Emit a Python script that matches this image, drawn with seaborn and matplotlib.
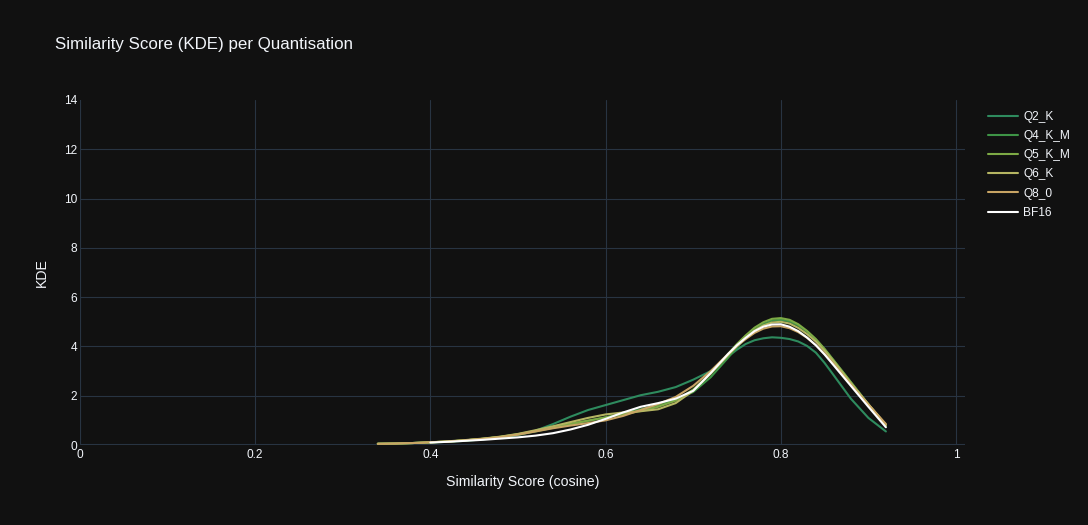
import pandas as pd
import numpy as np
import matplotlib
matplotlib.use("Agg")
import matplotlib.pyplot as plt
import seaborn as sns

# KDE curves
score = [0.34, 0.36, 0.38, 0.40, 0.42, 0.44, 0.46, 0.48, 0.50, 0.52,
         0.54, 0.56, 0.58, 0.60, 0.62, 0.64, 0.66, 0.68, 0.70, 0.72,
         0.74, 0.75, 0.76, 0.77, 0.78, 0.79, 0.80, 0.81, 0.82, 0.83,
         0.84, 0.85, 0.86, 0.88, 0.90, 0.92]

q2_k = [0.05, 0.06, 0.08, 0.10, 0.13, 0.17, 0.23, 0.30, 0.40, 0.58,
        0.85, 1.15, 1.42, 1.62, 1.82, 2.02, 2.16, 2.35, 2.65, 3.00,
        3.60, 3.87, 4.10, 4.25, 4.33, 4.37, 4.35, 4.30, 4.20, 4.02,
        3.75, 3.33, 2.85, 1.88, 1.10, 0.55]
q4_k_m = [0.05, 0.06, 0.08, 0.11, 0.14, 0.19, 0.25, 0.33, 0.43, 0.55,
          0.70, 0.85, 0.98, 1.12, 1.28, 1.45, 1.62, 1.82, 2.15, 2.75,
          3.55, 3.97, 4.35, 4.67, 4.90, 5.05, 5.08, 5.02, 4.85, 4.60,
          4.28, 3.88, 3.45, 2.55, 1.65, 0.78]
q5_k_m = [0.05, 0.06, 0.08, 0.11, 0.14, 0.19, 0.25, 0.33, 0.44, 0.57,
          0.72, 0.86, 0.99, 1.12, 1.24, 1.38, 1.55, 1.80, 2.25, 2.90,
          3.70, 4.10, 4.45, 4.76, 4.98, 5.12, 5.15, 5.08, 4.90, 4.63,
          4.30, 3.90, 3.45, 2.55, 1.65, 0.80]
q6_k = [0.05, 0.06, 0.08, 0.11, 0.15, 0.20, 0.26, 0.34, 0.45, 0.60,
        0.76, 0.93, 1.10, 1.24, 1.32, 1.37, 1.45, 1.70, 2.20, 2.90,
        3.65, 4.02, 4.35, 4.64, 4.85, 4.97, 5.00, 4.93, 4.75, 4.50,
        4.20, 3.82, 3.40, 2.50, 1.65, 0.82]
q8_0 = [0.05, 0.06, 0.08, 0.11, 0.14, 0.19, 0.25, 0.32, 0.42, 0.55,
        0.68, 0.79, 0.89, 1.00, 1.18, 1.42, 1.66, 1.95, 2.40, 3.00,
        3.70, 4.02, 4.30, 4.55, 4.72, 4.81, 4.82, 4.74, 4.58, 4.35,
        4.05, 3.70, 3.30, 2.45, 1.65, 0.85]
bf16 = [None, None, None, 0.10, 0.13, 0.17, 0.21, 0.26, 0.31, 0.38,
        0.48, 0.63, 0.82, 1.06, 1.32, 1.55, 1.70, 1.88, 2.20, 2.92,
        3.70, 4.05, 4.35, 4.62, 4.80, 4.89, 4.90, 4.80, 4.62, 4.36,
        4.05, 3.67, 3.25, 2.40, 1.55, 0.72]

quants = ["Q2_K", "Q4_K_M", "Q5_K_M", "Q6_K", "Q8_0", "BF16"]
series = [q2_k, q4_k_m, q5_k_m, q6_k, q8_0, bf16]
colors = ["#2e8b5e", "#3e9446", "#7daa45", "#b5b562", "#c8a464", "#ffffff"]

df = pd.concat(
    [pd.DataFrame({"score": score, "kde": vals, "quant": q})
     for q, vals in zip(quants, series)],
    ignore_index=True,
).dropna()
df["kde"] = df["kde"].astype(float)

bg = "#111111"
grid = "#283442"
txt = "#f2f5fa"

sns.set_theme(style="darkgrid", rc={
    "figure.facecolor": bg,
    "axes.facecolor": bg,
    "axes.edgecolor": bg,
    "grid.color": grid,
    "grid.linewidth": 0.8,
    "text.color": txt,
    "axes.labelcolor": txt,
    "xtick.color": txt,
    "ytick.color": txt,
    "lines.solid_joinstyle": "round",
})
plt.rcParams["font.family"] = ["Liberation Sans", "DejaVu Sans"]

fig = plt.figure(figsize=(10.88, 5.25), dpi=100)
ax = fig.add_axes([80 / 1088, 1 - 445 / 525, 885 / 1088, 345 / 525])

sns.lineplot(data=df, x="score", y="kde", hue="quant", hue_order=quants,
             palette=dict(zip(quants, colors)), linewidth=1.5, ax=ax,
             sort=False)

ax.set_xlim(0, 1.0103)
ax.set_ylim(0, 14)
ax.set_xticks([0, 0.2, 0.4, 0.6, 0.8, 1])
ax.set_xticklabels(["0", "0.2", "0.4", "0.6", "0.8", "1"])
ax.set_yticks(range(0, 15, 2))
ax.tick_params(axis="both", length=0, labelsize=8.6, pad=3)
ax.tick_params(axis="y", pad=2)
for s in ax.spines.values():
    s.set_visible(False)
# no grid line along the top edge
ax.yaxis.get_major_ticks()[-1].gridline.set_visible(False)

# zero lines
ax.axhline(0, color=grid, lw=1.5, zorder=1)
ax.axvline(0, color=grid, lw=1.5, zorder=1)

ax.set_xlabel("Similarity Score (cosine)", fontsize=10.2, labelpad=9.8)
ax.set_ylabel("KDE", fontsize=10.2, labelpad=11)

fig.text(55 / 1088, 1 - 44.5 / 525, "Similarity Score (KDE) per Quantisation",
         fontsize=12.15, color=txt, va="center", ha="left")

handles, labels = ax.get_legend_handles_labels()
ax.legend(handles, labels, loc="upper left",
          bbox_to_anchor=(988 / 1088, 1 - 111 / 525),
          bbox_transform=fig.transFigure, frameon=False, fontsize=8.6,
          handlelength=2.5, handletextpad=0.45, labelspacing=0.6,
          labelcolor=txt, borderaxespad=0, borderpad=0)

fig.savefig("out.png", dpi=100, facecolor=bg)
